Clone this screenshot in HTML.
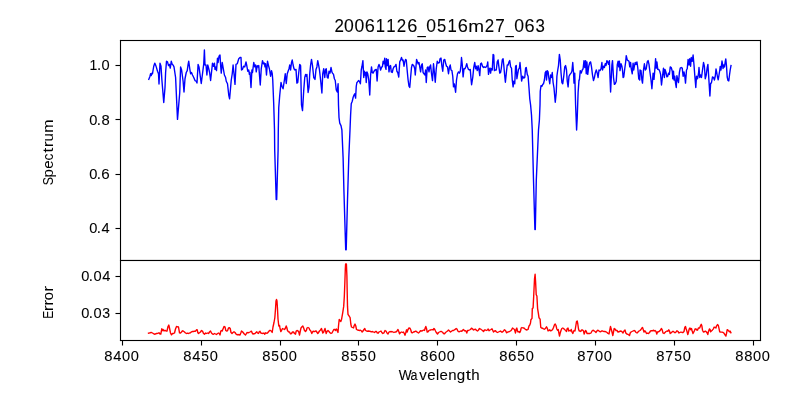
<!DOCTYPE html>
<html><head><meta charset="utf-8"><style>
html,body{margin:0;padding:0;background:#fff;}
svg{display:block;}
text{font-family:"Liberation Sans",sans-serif;fill:#000;}
</style></head><body>
<svg width="800" height="400" viewBox="0 0 800 400">
<rect x="0" y="0" width="800" height="400" fill="#fff"/>
<polyline points="148.75,79.4 150,76.25 150.6,73.75 151.25,75.6 151.9,73.1 152.5,73.75 153.1,70 153.75,66.25 154.75,63.1 155.6,65 156.25,66.9 157.5,71.25 158.5,73.75 159,84 160,63.1 161,66.25 161.9,80 163.75,102.5 165,87.5 165.6,72.5 166.5,61.25 167.5,61.9 168.5,65.6 169.4,64.4 170.25,68.1 171.25,61.25 172.25,64.4 173.1,65 174,66.9 175.6,77.5 177.5,119.4 179.75,92.5 180.6,66.9 181.6,70 183.1,81.25 184,92 185,78.75 186.25,72.5 187.25,70.6 188.1,64.4 188.75,61.25 189.75,68.75 190.6,73.75 191.5,72.5 192.5,75 193.75,77.5 195,80.6 196.25,81.25 197,83 198.1,64.4 199,66.9 200,74.4 201.25,83.5 202.5,73.75 203.75,63.75 204.4,50 205,65 206,65 206.9,75 207.75,65 208.75,68.75 209.6,72.5 210.6,80.5 211.9,68.75 212.5,63.1 213.5,66.25 214.4,63.1 215,69.4 216,66.9 216.5,70.6 217.5,58.1 218.1,62.5 219,56.25 220,55 220.6,65 221.25,73.1 222.25,62.5 223.1,67.5 224.4,75 225.6,77.5 226.25,81.25 227.5,83.75 228.75,95 229.6,98.75 230.6,87.5 231.25,80 232.25,73.75 233.1,65 234,73.75 235,84.4 236,64.4 237.25,63.75 238.75,58.75 240,57.5 241,57.5 241.5,70 242.5,69.4 243.5,66.25 244.75,66.9 246,61.9 246.9,66.25 247.75,71.25 248.75,70 249.4,74.4 250,72.5 251,87.5 251.9,70 252.5,72.5 253.75,62.5 254.75,66.9 255.6,65 256.25,71.9 257.25,65.6 258.1,66.9 258.75,65.6 260.25,85 261.25,68.75 262.5,60.6 263.5,63.75 264.4,63.1 265,66.9 265.6,63.75 266.5,75 267.5,61.25 268.5,65.6 269.4,68.75 270.6,76.25 271.5,70.6 272.25,73.75 272.75,80 273.75,105 274.5,130 274.7,150 276.2,199.5 276.7,199.5 278.1,150 278.3,130 278.75,107.5 279.75,95 281,82.5 281.9,86.25 283.1,88.75 284.4,80 285.25,73.75 286.25,83.5 287.25,73.75 288.1,71.25 289,68.75 289.75,65 290.6,70 291.5,62.5 292.25,60 293.1,65 294,68.75 295,70 296,69.4 296.9,83.1 297.75,82.5 298.75,72.5 299.75,64.4 300.6,65.6 301.5,105 302.5,110.6 303.75,90 304.75,77.5 305.6,74.4 306.25,76.25 306.9,74.4 308.1,92.5 309,87.5 309.75,73.75 310.6,65 311.5,59.4 312.5,65.6 313.75,77.5 315,79.4 316,69.4 316.9,66.9 317.75,60.6 318.5,64.4 319.4,69.4 320.6,80 321.9,93 322.75,73.75 323.75,68.75 324.75,77.5 325.6,69.4 326.25,68.75 327.25,77.5 328.1,78.1 329,71.25 330,73.1 331,67.5 331.9,71.9 332.5,73.1 333.5,74.4 334.4,78.75 335.25,80.5 336.25,90 337.25,91.9 338.1,83.75 338.5,105 339,117.5 339.75,123.1 341,125.6 341.9,130 343.1,157.5 343.9,190 345.7,249.8 346.2,249.8 347.5,200 348.8,157.5 350,130 350.6,115 351.25,103.75 352.25,101.25 353.1,97.5 354,95 354.75,93.75 355.6,98.1 356.25,86.25 356.9,82.5 357.5,81.9 358.5,80.6 359.4,81.25 360.4,83.75 361.25,70 362,66.25 362.9,60.6 363.75,77.5 364.4,71.25 365,75 365.6,72.5 366.25,82.5 366.9,71.9 367.75,73.75 368.75,80 369.75,95 370.6,75 371.5,66.9 372.25,72.5 373.1,73.1 374,71.25 375,70 376.25,69.4 377.1,81 378.1,66.9 379,64.4 379.75,66.25 380.6,70 381.5,67.5 382.5,66.25 383.1,61.25 384,63.75 384.75,58.1 385.25,66.9 386,69.4 386.5,58.75 387.25,65.6 388.1,59.4 389,71.9 389.75,66.25 390.6,65.6 391.25,71.9 392.25,72.5 393.1,68.75 394,66.9 395,66.25 396,64.4 396.9,71.25 397.75,72.5 398.75,77 399.75,61.9 400.6,60 401.5,57.5 402.5,60.6 403.1,60 404,66.25 404.75,61.9 405.6,59.4 406.25,60 407.25,71.25 408.1,80 409,86.25 409.75,87.5 410.6,77.5 411.5,67.5 412.25,64.4 413.1,65 414,66.25 414.75,68.75 415.25,75 416,66.25 416.6,59.4 417.5,61.9 418.1,63.75 419,62.5 419.75,66.9 420.6,71.9 421.5,65 422.25,63.75 423.1,72.5 424,73.75 425,75 425.6,70 426.25,82.5 427.25,67.5 428.1,66.9 429,71.9 429.75,66.9 430.6,65 431.5,73.75 432.5,80.6 433.5,63.75 434.4,72.5 435.25,82.2 436.25,68.75 437.25,61.25 438.1,63.1 439.4,62.5 440,58.75 441,58.1 441.9,66.25 442.75,71.25 443.75,60 444.75,59.4 445.6,63.1 446.5,66.25 447.5,66.9 448.5,73.75 449.4,67.5 450.25,65 451,70 451.9,70.6 452.75,76.25 453.5,86.9 454.4,84 455.6,92.25 456.5,80 457.5,73.75 458.5,71.9 459.4,73.1 460.25,71.25 461,65 461.5,57.5 462.25,64.4 463.1,76.9 464,68.75 465,68.75 466,66.25 466.75,63.75 467.5,66.9 468.5,69.4 469.4,70 470.25,69.4 471,78.75 471.6,84.75 472.75,77.5 473.75,67.5 474.75,62.5 475.6,68.75 476.25,66.25 477.25,70.6 478.1,65.6 479,70 479.75,75.6 480.6,63.75 481.5,63.1 482.5,66.25 483.5,67.5 484.4,66.9 485.25,67.5 486.25,66.9 487.25,65 487.75,61.9 488.5,74.4 489.4,68.75 490,68.1 490.6,73.1 491.25,68.75 492.25,70 493.1,54.4 493.75,55 494.4,70.6 495.25,70 496.25,70 497.25,61.9 498.1,60 498.75,65.6 499.75,73.1 500.6,72.5 501.25,68.75 502.25,60 503.1,58.75 503.75,65 504.75,76.25 505.4,82.2 506.5,71.25 507.25,65 508.1,65 509,61.9 509.75,60.6 510.6,66.9 511.5,68.1 512.25,80 513.1,86.9 513.75,81.25 514.75,83.75 515.6,66.25 516.25,65.6 516.9,78.75 517.75,73.75 518.5,69.4 519.4,68.1 520,62.5 521,73.75 521.6,81 522.75,76.25 523.75,78.1 524.75,77.5 525.6,68.1 526.25,67.5 527.25,74.4 528.1,76.25 529,88 529.75,98.75 530.6,105 531.5,115 532.25,130 533.5,180 534.9,229.5 535.3,229.5 536.3,180 538.5,130 539.4,120 540,105 540.25,91.25 541,85.6 541.9,86.25 542.75,84.4 543.5,83.75 544.4,80 545.25,72.5 546,71.25 546.5,80 547.25,70.6 548.1,71.9 548.75,77.5 549.75,83.75 550.6,75 551.5,77.5 552.25,72.5 553.1,82.5 554,88 555.25,102.25 556.25,92.5 556.9,76.25 557.75,70 558.5,65.6 559.4,54.4 560.25,60 561,72.5 561.9,82.5 562.75,83.75 563.75,76.25 564.75,66.9 565.6,65.6 566.5,70 567.25,81.25 568.1,86.9 569,76.25 570,74.4 571,73.1 571.9,71.25 572.75,62.5 573.5,72.5 574,83.1 574.75,73.1 575.6,105 576.6,130 577.25,117.5 578.1,92.5 579,80 579.4,80 580.25,70.6 581.25,73.1 582.25,70 583.1,68.75 584,60.6 584.75,67.5 585.6,60.6 586.25,73.75 586.9,61.9 587.75,74.4 588.75,66.25 589.75,62.5 590.6,61.9 591.5,66.9 592.5,75 593.5,80.6 594.4,77.5 595.25,73.1 596.25,70 597.25,73.1 598.1,77.5 599,70 600,70.6 601,68.75 601.9,62.5 602.5,70 603.5,66.25 604.4,67.5 605.25,63.75 606,65.6 606.9,60.6 607.75,61.9 608.5,64.4 609.4,60.6 610,77.5 610.6,92 611.9,65 612.5,60.6 613.5,77.5 614.4,84.4 615.25,83.75 616.25,81.25 617.25,65 618.1,61.25 618.75,66.9 619.4,61.25 620,70.6 621,63.75 621.9,66.25 622.5,70 623.1,77.5 623.75,76.9 624.75,68.75 625.6,62.5 626.25,55.6 627.25,60 628.1,60.6 629,61.25 629.75,66.9 630.6,62.5 631.25,68.75 632.25,73.75 633.1,63.1 633.75,70 634.4,66.25 635.25,62.5 636,64.4 636.9,61.9 637.75,67.5 638.75,78.75 639.75,80 640,70 641,70.6 641.9,80 642.5,83.1 643.5,70 644.4,63.75 645.25,70 646.25,68.75 647.25,61.9 648.1,60.6 649,64.4 650,72.5 651,80 651.9,88.75 652.5,81.25 653.1,73.1 654,79.4 654.75,70.6 655.6,58.75 656.25,68.1 656.9,61.9 657.75,69.4 658.75,69.4 659.75,71.25 660.6,74.4 661.5,85 662.5,76.25 663.5,68.1 664.4,77.5 665,69.4 666,72.5 666.9,76.9 667.75,76.25 668.5,73.1 669.4,74.4 670.25,66.9 671.25,67.5 672.25,71.25 672.75,78.75 673.5,71.25 674,80 674.75,76.25 675.6,83.75 676.25,87.5 676.9,75.6 677.75,80 678.5,82.5 679.4,72.5 680.25,68.1 681.25,67.5 682.25,68.1 683.1,76.25 684,71.9 684.75,75.6 685.5,83.1 686.5,70 687.25,68.75 688.1,59.4 689,65 689.75,58.75 690.6,66.25 691.25,57.5 692.25,61.25 693.1,55 694,65 694.75,75 695.8,87.5 696.5,76.25 697.5,78.75 698.5,73.75 699,67.5 699.75,77.5 700.6,75 701.5,77.5 702.5,70 703.5,62.5 704.4,66.25 705.25,78.75 706.25,75 707.1,68.1 707.9,64.4 708.75,77.5 709.9,96 710.6,83.75 711.5,82.5 712.5,76.9 713.5,77.5 714.4,80 715.25,76.25 716,69 716.8,73 717.5,77 718.2,79.8 719,75 719.8,70 720.2,66.5 721,70 721.5,65.5 722,61 722.5,64 723,68.5 723.8,65 724.5,67 725.2,62 725.8,59 726.5,66 727.2,77 728,80.5 728.8,81 729.5,75 730.2,70 731,65.5" fill="none" stroke="#0000ff" stroke-width="1.39" stroke-linejoin="round" stroke-linecap="square"/>
<polyline points="148.5,333.2 150,332.8 151.5,332.5 152.5,333 154,334 155,334.2 156.5,333.5 158,333.2 159,332.8 160,334 160.8,334 161.8,328.8 162.5,330.5 163.2,329.5 164,331 165,330.2 166,331 167,331 168,326.5 168.8,325 169.5,328 170.5,333 171.5,334.8 172.5,333.5 173.5,333.5 174.5,333 175.5,329 176.5,326.5 177.5,326.8 178.5,327 179.5,332.8 180.5,333 181.5,332 182.5,330.8 183.5,331.2 184.5,332 185.5,333 186.5,333.5 187.5,333.2 188.5,333.5 189.5,333 190.5,332.8 191.5,331.8 192.5,331.5 193.5,331.5 194.5,331.2 195.5,331.2 196.5,329.8 197.2,329.8 197.8,332.5 198.5,333.5 199.5,332.8 200.5,332 201.5,330.5 202.5,331 203.5,333.5 204.5,334.2 205.5,333 206.5,333.5 207.5,333 208.5,333.5 209.5,332 210.5,331 211.5,333 212.5,334 213.5,334.2 214.5,333.5 215.5,334 216.5,334.5 217.5,333.5 218.5,333 219.2,333.5 220,335 220.8,331 221.5,330.5 222.2,331 223,329 224,326.5 225,326.8 225.8,330.5 226.5,331 227.5,330.8 228.5,328 229.5,327.8 230.2,328.5 231,332.5 232,333.5 233,332.5 234,331.8 235,332.5 236,334 237,334.8 238,334.5 239,334.8 240,335 240.8,333 241.5,331 242.5,331.8 243.5,333 244.5,334.2 245.5,335 246.2,333.8 247,332.5 248,332.8 249,332.5 250,332 250.8,331.5 251.5,331.2 252.2,333 253,334 254,333.8 255,333.5 256,332.5 256.8,331.8 257.5,333 258.5,333.5 259.2,331.8 260,331.2 260.8,333 261.8,333.2 262.8,333.5 263.8,333 264.8,334.2 265.5,332.8 266.5,333.2 267.5,333 268.5,331.8 269.5,330.5 270.5,330.5 271.5,331.2 272.2,332.5 273,327 274,322.5 274.8,318 275.5,309 276,301 276.5,299.5 277,301 277.5,309 278,319 278.8,326 279.5,325.5 280,328 280.8,331.5 281.5,330.5 282.5,328.5 283.5,329 284.5,329.5 285.5,328 286.2,326 286.8,327.5 287.5,330.5 288.5,331.8 289.5,332 290.5,333.8 291.5,333.5 292.5,332 293.5,332 294.5,333.5 295.5,334.2 296.2,331 297,330.5 298,330.8 298.8,332 299.5,335 300.2,331.5 301,328 302,326.8 302.8,326 303.5,327.5 304.5,330.5 305.5,331.5 306.5,330 307,328 308,327.5 309,328 309.8,330 310.5,330.5 311.2,332 311.8,333.5 312.5,332 313.2,331.2 314,331.5 315,331.5 316,330.8 316.8,332 317.8,333.5 318.5,332.5 319.5,331 320.5,330 321.5,328.5 322.2,331 322.8,333 323.5,332.5 324.2,330.5 325,328.5 325.5,330.5 326.2,333.5 327,331.5 328,330.5 329,331.5 330,332.8 331,333.5 332,333 333,331 333.8,329.5 334.8,329.5 335.5,330.5 336.2,329 336.8,329.5 337.5,331.5 338,332.5 338.5,326 339.2,319.5 340.2,321 340.8,321.5 341.6,319.2 342.7,312.8 343.7,306.4 344.3,296.8 344.8,284 345.3,269.6 345.6,264 346.4,264 346.9,276 347.2,292 347.5,306.4 348,314.4 349.1,316 350.1,317.6 350.5,321 350.8,324 351.5,327 352.5,327.5 353.5,328 354.2,325.5 355,324 355.8,326 356.5,329.5 357.5,330 358.5,330.2 359.5,330.5 360.5,330.2 361.5,331 362.2,332 363,331 364,329.5 364.8,328.5 365.5,330.5 366.5,331 367.5,331.2 368.5,331 369.5,331.2 370.5,331.5 371.5,331.8 372.5,331.5 373.5,332 374.5,332.5 375.5,331.5 376.5,331.5 377.2,332.8 378,333.2 379,332 380,331.5 381,331 381.8,332.5 382.8,333.5 384,332.8 385,330.5 386,331 387,333 388,334 389,332 390,331.5 391,331.8 392,331.5 393,332 394,332.5 395,332 396,332 397,331 398,329.5 398.8,331.5 399.5,333.8 400.5,332.5 401.5,332 402.5,332.5 403.5,332 404.5,334 405,335.2 405.8,332.5 406.5,329.8 407.2,332 408,329.5 409,328 410,328.2 410.8,330 411.5,332.5 412.5,332.8 413.5,332 414.5,331.8 415.5,331.2 416.5,331.5 417.5,332.5 418.5,333 419.5,332 420.5,330.8 421.5,331 422.5,330.8 423.5,330 424.5,330.5 425.2,328 425.8,326.5 426.5,328.5 427.2,332 428,331.8 429,330.5 430,330 431,330 432,329.5 433,330 434,328.5 434.8,329.5 435.5,331 436.5,332.8 437.5,334 438.5,332.5 439.5,332 440.5,331.5 441.5,331.5 442.5,332.2 443.5,333.5 444.5,333.8 445.5,332.5 446.5,331.8 447.5,331 448.5,330 449.5,331 450.5,332 451.5,331.2 452.5,330.5 453.5,330.5 454.5,329.8 455.5,329.2 456.2,328.5 457,329 457.8,331 458.8,331.8 459.8,331.5 460.8,331 461.8,331.2 462.8,330 463.5,329.5 464.5,330.8 465.5,330.8 466.2,331.5 466.8,333 467.5,330.5 468.5,330.5 469.5,330 470.5,329.5 471.5,328.2 472.5,328.8 473.5,330 474.5,329.5 475.5,329.2 476.5,330.5 477.5,331 478.5,330 479.5,328.5 480.5,329 481.5,329.8 482.5,330.5 483.5,331.5 484.5,330 485.5,330 486.5,330.5 487.5,330 488.2,329 489,330.8 490,330 491,329.5 492,328.8 492.8,330.5 493.5,332 494.5,331 495.5,330.8 496.5,332 497.5,332.5 498.5,332 499.5,331.5 500.5,331 501.5,332 502.5,332 503.5,331 504.5,329.8 505.5,330.5 506.5,332.8 507.5,332.2 508.5,331.8 509.5,331.5 510.5,331 511.5,330 512.5,328 513.5,328.8 514.5,329.5 515.5,333 516.2,329 516.8,328 517.5,331 518.2,332 519,331.5 519.8,332.5 520.5,331 521.2,328 522,327.5 523,328 524,328 525,329 526,329.8 527,330 528,329.5 529,326 529.8,325 530.5,323 530.9,319.8 532,318.4 532.3,308.6 533.1,307.9 533.7,296 534.5,279.2 535.1,274.3 535.6,282 536.2,294.6 536.9,296 537.6,308.6 538.3,312.8 539,317.7 540.1,319.1 540.4,323 540.8,327.5 541.5,328 542.5,328.2 543.5,328.8 544.5,329.2 545.8,328 546.5,326.8 547.2,328 548,330.8 549,330.5 549.8,329.8 550.5,330.8 551.5,330.5 552.5,329.8 553.5,327.5 554.5,324.8 555.2,324 556,325.5 556.8,329 557.5,330.2 558.2,329.5 559,333.5 559.5,336 560.2,333 561,330.5 561.8,328.5 562.8,328 563.8,328.8 564.8,329.8 565.8,330.5 566.5,331.5 567.2,328.5 568,328 568.8,331 569.5,330.5 570.5,331 571.2,329.5 572,332 572.8,333.5 573.5,331.5 574.2,330.5 575,331 575.8,326 576.5,321.5 577.2,321 577.8,324 578.5,329 579.2,331 580,331 580.8,331.5 581.5,330 582.5,330 583.5,331 584.2,334 584.8,332.5 585.5,330.5 586.2,331 587,333.5 588,333.5 589,333.5 590,333.5 591,333 592,331 593,330.2 594,330.8 595,331.5 596,332.5 597,330.8 598,330.2 599,331 600,331.8 601,331.5 602,330.8 603,331.2 604,331.5 605,331.5 606,331.8 607,332.5 608,333.5 609,334 609.8,330 610.5,326.5 611.2,329 612,332 612.8,335.5 613.5,332 614.2,328.5 615,329 616,330.5 617,330.5 618,332 619,331.8 620,331.2 621,331 622,331.8 623,333 624,331 625,330 625.8,333 626.8,334 627.8,334.2 628.8,335 629.5,335.5 630.2,333 631,332 632,331.5 633,331 634,330.5 635,330.8 636,332.5 637,333 638,332 639,331 640,330.5 641,329.5 641.8,328 642.5,327.5 643.2,329.5 644,332 644.8,330.8 645.5,331.5 646.5,333.5 647.5,333.2 648.5,333.5 649.5,332.5 650.5,331 651.5,330.8 652.5,330.8 653.5,330.2 654.2,331 655,330.5 656,331.5 656.8,334 657.5,332 658.5,331.8 659.5,331.2 660.5,330 661.5,328.5 662.2,329.8 663,333 664,333.5 665,332.5 666,331.5 667,331 668,331.2 668.8,329.8 669.5,331 670.2,333.5 671,333 672,332 673,331.2 674,332 675,332.8 676,332 677,330.8 678,331.5 679,333 680,332.5 681,332 682,332.5 683,332.5 684,331.5 684.8,327.5 685.5,326.5 686.2,329 687,331.5 687.8,334.5 688.5,332 689.2,329 690,328 690.8,329.8 691.5,328.5 692.2,331 693,333.5 693.8,332 694.5,330.5 695.2,328.8 696,329 696.8,330 697.5,330.2 698.4,328 699.7,328 700.6,325.5 701.25,324.25 701.9,326.1 702.5,330.2 703.4,332 704.4,331.75 705.3,331.1 706.25,331.75 707.2,333 707.8,334.6 708.4,331.75 709.4,328.9 710,329.25 710.6,331.75 711.6,330.8 712.5,329.9 713.4,328.9 714.1,327.1 715,327.4 715.9,328 716.6,325.8 717.5,324.6 718.25,325.2 719.1,328.9 719.7,331.75 720.6,332.1 721.9,332.1 723.1,332.4 724.1,333.3 725,334.9 725.9,336.1 726.6,333 727.2,329.6 727.8,329.9 728.75,331.1 729.4,331.75 730.1,331.1 730.9,332.7" fill="none" stroke="#ff0000" stroke-width="1.39" stroke-linejoin="round" stroke-linecap="square"/>
<g fill="#000"><rect x="119.945" y="39.945" width="641.110" height="1.110"/><rect x="119.945" y="39.945" width="1.110" height="301.110"/><rect x="759.945" y="39.945" width="1.110" height="301.110"/><rect x="119.945" y="339.945" width="641.110" height="1.110"/><rect x="119.945" y="259.945" width="641.110" height="1.110"/><rect x="121.945" y="340.500" width="1.110" height="5.000"/><rect x="200.945" y="340.500" width="1.110" height="5.000"/><rect x="279.945" y="340.500" width="1.110" height="5.000"/><rect x="357.945" y="340.500" width="1.110" height="5.000"/><rect x="436.945" y="340.500" width="1.110" height="5.000"/><rect x="515.945" y="340.500" width="1.110" height="5.000"/><rect x="594.945" y="340.500" width="1.110" height="5.000"/><rect x="673.945" y="340.500" width="1.110" height="5.000"/><rect x="752.945" y="340.500" width="1.110" height="5.000"/><rect x="115.500" y="64.945" width="5.000" height="1.110"/><rect x="115.500" y="118.945" width="5.000" height="1.110"/><rect x="115.500" y="173.945" width="5.000" height="1.110"/><rect x="115.500" y="227.945" width="5.000" height="1.110"/><rect x="115.500" y="275.945" width="5.000" height="1.110"/><rect x="115.500" y="312.945" width="5.000" height="1.110"/><rect x="120" y="259" width="641" height="1" fill-opacity="0.055"/></g>
<g opacity="0.999" stroke="#000" stroke-width="0">
<text transform="translate(89.00,222.00)" stroke-width="0.09"><tspan x="0.27" y="11.11" font-size="14.84" textLength="8.14" lengthAdjust="spacingAndGlyphs">0</tspan><tspan x="7.85" y="10.92" font-size="16.11" textLength="4.18" lengthAdjust="spacingAndGlyphs">.</tspan><tspan x="12.45" y="10.91" font-size="14.72" textLength="8.14" lengthAdjust="spacingAndGlyphs">4</tspan></text>
<text transform="translate(89.00,168.00)" stroke-width="0.09"><tspan x="0.27" y="11.11" font-size="14.84" textLength="8.14" lengthAdjust="spacingAndGlyphs">0</tspan><tspan x="7.85" y="10.92" font-size="16.11" textLength="4.18" lengthAdjust="spacingAndGlyphs">.</tspan><tspan x="12.31" y="11.11" font-size="14.84" textLength="8.43" lengthAdjust="spacingAndGlyphs">6</tspan></text>
<text transform="translate(89.00,114.00)" stroke-width="0.09"><tspan x="0.27" y="11.11" font-size="14.84" textLength="8.14" lengthAdjust="spacingAndGlyphs">0</tspan><tspan x="7.85" y="10.92" font-size="16.11" textLength="4.18" lengthAdjust="spacingAndGlyphs">.</tspan><tspan x="12.47" y="11.11" font-size="14.84" textLength="8.23" lengthAdjust="spacingAndGlyphs">8</tspan></text>
<text transform="translate(90.00,59.00)" stroke-width="0.09"><tspan x="-0.41" y="11.06" font-size="14.72" textLength="7.78" lengthAdjust="spacingAndGlyphs">1</tspan><tspan x="6.98" y="10.92" font-size="16.11" textLength="4.18" lengthAdjust="spacingAndGlyphs">.</tspan><tspan x="11.50" y="11.11" font-size="14.84" textLength="8.14" lengthAdjust="spacingAndGlyphs">0</tspan></text>
<text transform="translate(42.00,185.61) rotate(-90)" stroke-width="0.02"><tspan x="0.30" y="11.10" font-size="14.84" textLength="8.26" lengthAdjust="spacingAndGlyphs">S</tspan><tspan x="8.00" y="10.86" font-size="14.32" textLength="8.40" lengthAdjust="spacingAndGlyphs">p</tspan><tspan x="16.75" y="10.86" font-size="14.56" textLength="8.34" lengthAdjust="spacingAndGlyphs">e</tspan><tspan x="25.15" y="10.85" font-size="14.56" textLength="6.97" lengthAdjust="spacingAndGlyphs">c</tspan><tspan x="32.85" y="10.75" font-size="14.90" textLength="5.16" lengthAdjust="spacingAndGlyphs">t</tspan><tspan x="38.34" y="10.80" font-size="14.46" textLength="5.93" lengthAdjust="spacingAndGlyphs">r</tspan><tspan x="44.16" y="10.88" font-size="14.82" textLength="8.33" lengthAdjust="spacingAndGlyphs">u</tspan><tspan x="52.94" y="10.89" font-size="14.46" textLength="13.18" lengthAdjust="spacingAndGlyphs">m</tspan></text>
<text transform="translate(335.00,18.00)" stroke-width="0.09"><tspan x="-0.59" y="13.70" font-size="17.72" textLength="9.42" lengthAdjust="spacingAndGlyphs">2</tspan><tspan x="9.03" y="13.63" font-size="17.80" textLength="9.77" lengthAdjust="spacingAndGlyphs">0</tspan><tspan x="19.53" y="13.63" font-size="17.80" textLength="9.77" lengthAdjust="spacingAndGlyphs">0</tspan><tspan x="29.79" y="13.63" font-size="17.80" textLength="10.11" lengthAdjust="spacingAndGlyphs">6</tspan><tspan x="40.73" y="13.58" font-size="17.66" textLength="9.33" lengthAdjust="spacingAndGlyphs">1</tspan><tspan x="51.36" y="13.58" font-size="17.66" textLength="9.33" lengthAdjust="spacingAndGlyphs">1</tspan><tspan x="61.79" y="13.71" font-size="17.72" textLength="9.42" lengthAdjust="spacingAndGlyphs">2</tspan><tspan x="72.17" y="13.64" font-size="17.80" textLength="10.11" lengthAdjust="spacingAndGlyphs">6</tspan><tspan x="82.58" y="14.52" font-size="18.33" textLength="8.27" lengthAdjust="spacingAndGlyphs">_</tspan><tspan x="91.28" y="13.63" font-size="17.80" textLength="9.77" lengthAdjust="spacingAndGlyphs">0</tspan><tspan x="101.93" y="13.51" font-size="17.75" textLength="9.22" lengthAdjust="spacingAndGlyphs">5</tspan><tspan x="112.48" y="13.58" font-size="17.66" textLength="9.33" lengthAdjust="spacingAndGlyphs">1</tspan><tspan x="122.67" y="13.62" font-size="17.80" textLength="10.11" lengthAdjust="spacingAndGlyphs">6</tspan><tspan x="133.25" y="13.67" font-size="17.35" textLength="15.82" lengthAdjust="spacingAndGlyphs">m</tspan><tspan x="149.67" y="13.72" font-size="17.72" textLength="9.42" lengthAdjust="spacingAndGlyphs">2</tspan><tspan x="160.33" y="13.52" font-size="17.66" textLength="9.56" lengthAdjust="spacingAndGlyphs">7</tspan><tspan x="170.46" y="14.52" font-size="18.33" textLength="8.27" lengthAdjust="spacingAndGlyphs">_</tspan><tspan x="179.15" y="13.63" font-size="17.80" textLength="9.77" lengthAdjust="spacingAndGlyphs">0</tspan><tspan x="189.42" y="13.63" font-size="17.80" textLength="10.11" lengthAdjust="spacingAndGlyphs">6</tspan><tspan x="200.38" y="13.63" font-size="17.80" textLength="9.38" lengthAdjust="spacingAndGlyphs">3</tspan></text>
<text transform="translate(105.00,350.00)" stroke-width="0.09"><tspan x="-0.65" y="11.11" font-size="14.84" textLength="8.23" lengthAdjust="spacingAndGlyphs">8</tspan><tspan x="8.19" y="11.00" font-size="14.72" textLength="8.14" lengthAdjust="spacingAndGlyphs">4</tspan><tspan x="16.90" y="11.11" font-size="14.84" textLength="8.14" lengthAdjust="spacingAndGlyphs">0</tspan><tspan x="25.64" y="11.11" font-size="14.84" textLength="8.14" lengthAdjust="spacingAndGlyphs">0</tspan></text>
<text transform="translate(184.00,350.00)" stroke-width="0.09"><tspan x="-0.65" y="11.11" font-size="14.84" textLength="8.23" lengthAdjust="spacingAndGlyphs">8</tspan><tspan x="8.19" y="11.00" font-size="14.72" textLength="8.14" lengthAdjust="spacingAndGlyphs">4</tspan><tspan x="17.14" y="11.00" font-size="14.79" textLength="7.68" lengthAdjust="spacingAndGlyphs">5</tspan><tspan x="25.64" y="11.11" font-size="14.84" textLength="8.14" lengthAdjust="spacingAndGlyphs">0</tspan></text>
<text transform="translate(263.00,350.00)" stroke-width="0.09"><tspan x="-0.65" y="11.11" font-size="14.84" textLength="8.23" lengthAdjust="spacingAndGlyphs">8</tspan><tspan x="8.35" y="11.01" font-size="14.79" textLength="7.68" lengthAdjust="spacingAndGlyphs">5</tspan><tspan x="16.90" y="11.11" font-size="14.84" textLength="8.14" lengthAdjust="spacingAndGlyphs">0</tspan><tspan x="25.64" y="11.11" font-size="14.84" textLength="8.14" lengthAdjust="spacingAndGlyphs">0</tspan></text>
<text transform="translate(342.00,350.00)" stroke-width="0.09"><tspan x="-0.65" y="11.11" font-size="14.84" textLength="8.23" lengthAdjust="spacingAndGlyphs">8</tspan><tspan x="8.35" y="11.01" font-size="14.79" textLength="7.68" lengthAdjust="spacingAndGlyphs">5</tspan><tspan x="17.14" y="11.00" font-size="14.79" textLength="7.68" lengthAdjust="spacingAndGlyphs">5</tspan><tspan x="25.64" y="11.11" font-size="14.84" textLength="8.14" lengthAdjust="spacingAndGlyphs">0</tspan></text>
<text transform="translate(421.00,350.00)" stroke-width="0.09"><tspan x="-0.65" y="11.11" font-size="14.84" textLength="8.23" lengthAdjust="spacingAndGlyphs">8</tspan><tspan x="8.07" y="11.11" font-size="14.84" textLength="8.43" lengthAdjust="spacingAndGlyphs">6</tspan><tspan x="17.02" y="11.11" font-size="14.84" textLength="8.14" lengthAdjust="spacingAndGlyphs">0</tspan><tspan x="25.77" y="11.11" font-size="14.84" textLength="8.14" lengthAdjust="spacingAndGlyphs">0</tspan></text>
<text transform="translate(500.00,350.00)" stroke-width="0.09"><tspan x="-0.65" y="11.11" font-size="14.84" textLength="8.23" lengthAdjust="spacingAndGlyphs">8</tspan><tspan x="8.07" y="11.11" font-size="14.84" textLength="8.43" lengthAdjust="spacingAndGlyphs">6</tspan><tspan x="17.24" y="11.00" font-size="14.79" textLength="7.68" lengthAdjust="spacingAndGlyphs">5</tspan><tspan x="25.77" y="11.11" font-size="14.84" textLength="8.14" lengthAdjust="spacingAndGlyphs">0</tspan></text>
<text transform="translate(578.00,350.00)" stroke-width="0.09"><tspan x="-0.65" y="11.11" font-size="14.84" textLength="8.23" lengthAdjust="spacingAndGlyphs">8</tspan><tspan x="8.24" y="11.04" font-size="14.72" textLength="7.96" lengthAdjust="spacingAndGlyphs">7</tspan><tspan x="16.90" y="11.11" font-size="14.84" textLength="8.14" lengthAdjust="spacingAndGlyphs">0</tspan><tspan x="25.64" y="11.11" font-size="14.84" textLength="8.14" lengthAdjust="spacingAndGlyphs">0</tspan></text>
<text transform="translate(657.00,350.00)" stroke-width="0.09"><tspan x="-0.65" y="11.11" font-size="14.84" textLength="8.23" lengthAdjust="spacingAndGlyphs">8</tspan><tspan x="8.24" y="11.04" font-size="14.72" textLength="7.96" lengthAdjust="spacingAndGlyphs">7</tspan><tspan x="17.14" y="11.00" font-size="14.79" textLength="7.68" lengthAdjust="spacingAndGlyphs">5</tspan><tspan x="25.64" y="11.11" font-size="14.84" textLength="8.14" lengthAdjust="spacingAndGlyphs">0</tspan></text>
<text transform="translate(736.00,350.00)" stroke-width="0.09"><tspan x="-0.65" y="11.11" font-size="14.84" textLength="8.23" lengthAdjust="spacingAndGlyphs">8</tspan><tspan x="8.22" y="11.11" font-size="14.84" textLength="8.23" lengthAdjust="spacingAndGlyphs">8</tspan><tspan x="17.02" y="11.11" font-size="14.84" textLength="8.14" lengthAdjust="spacingAndGlyphs">0</tspan><tspan x="25.77" y="11.11" font-size="14.84" textLength="8.14" lengthAdjust="spacingAndGlyphs">0</tspan></text>
<text transform="translate(398.31,368.00)" stroke-width="0.09"><tspan x="0.40" y="12.06" font-size="14.72" textLength="12.92" lengthAdjust="spacingAndGlyphs">W</tspan><tspan x="12.26" y="11.87" font-size="14.56" textLength="6.95" lengthAdjust="spacingAndGlyphs">a</tspan><tspan x="20.87" y="11.80" font-size="14.38" textLength="7.49" lengthAdjust="spacingAndGlyphs">v</tspan><tspan x="28.88" y="11.86" font-size="14.56" textLength="8.34" lengthAdjust="spacingAndGlyphs">e</tspan><tspan x="37.58" y="11.78" font-size="14.56" textLength="3.15" lengthAdjust="spacingAndGlyphs">l</tspan><tspan x="41.25" y="11.85" font-size="14.56" textLength="8.34" lengthAdjust="spacingAndGlyphs">e</tspan><tspan x="49.89" y="11.89" font-size="14.46" textLength="8.33" lengthAdjust="spacingAndGlyphs">n</tspan><tspan x="58.54" y="11.86" font-size="14.34" textLength="8.40" lengthAdjust="spacingAndGlyphs">g</tspan><tspan x="67.35" y="11.85" font-size="14.90" textLength="5.16" lengthAdjust="spacingAndGlyphs">t</tspan><tspan x="72.96" y="11.78" font-size="14.56" textLength="8.39" lengthAdjust="spacingAndGlyphs">h</tspan></text>
<text transform="translate(81.00,307.00)" stroke-width="0.09"><tspan x="0.27" y="11.11" font-size="14.84" textLength="8.14" lengthAdjust="spacingAndGlyphs">0</tspan><tspan x="7.85" y="10.92" font-size="16.11" textLength="4.18" lengthAdjust="spacingAndGlyphs">.</tspan><tspan x="12.40" y="11.11" font-size="14.84" textLength="8.14" lengthAdjust="spacingAndGlyphs">0</tspan><tspan x="21.36" y="11.12" font-size="14.84" textLength="7.82" lengthAdjust="spacingAndGlyphs">3</tspan></text>
<text transform="translate(81.00,270.00)" stroke-width="0.09"><tspan x="0.27" y="11.11" font-size="14.84" textLength="8.14" lengthAdjust="spacingAndGlyphs">0</tspan><tspan x="7.85" y="10.92" font-size="16.11" textLength="4.18" lengthAdjust="spacingAndGlyphs">.</tspan><tspan x="12.40" y="11.11" font-size="14.84" textLength="8.14" lengthAdjust="spacingAndGlyphs">0</tspan><tspan x="21.19" y="11.00" font-size="14.72" textLength="8.14" lengthAdjust="spacingAndGlyphs">4</tspan></text>
<text transform="translate(42.00,318.19) rotate(-90)" stroke-width="0.02"><tspan x="-0.64" y="11.06" font-size="14.72" textLength="8.03" lengthAdjust="spacingAndGlyphs">E</tspan><tspan x="6.84" y="10.89" font-size="14.46" textLength="5.93" lengthAdjust="spacingAndGlyphs">r</tspan><tspan x="12.34" y="10.80" font-size="14.46" textLength="5.93" lengthAdjust="spacingAndGlyphs">r</tspan><tspan x="17.86" y="10.85" font-size="14.56" textLength="8.21" lengthAdjust="spacingAndGlyphs">o</tspan><tspan x="26.34" y="10.80" font-size="14.46" textLength="5.93" lengthAdjust="spacingAndGlyphs">r</tspan></text>
</g>
</svg>
</body></html>
